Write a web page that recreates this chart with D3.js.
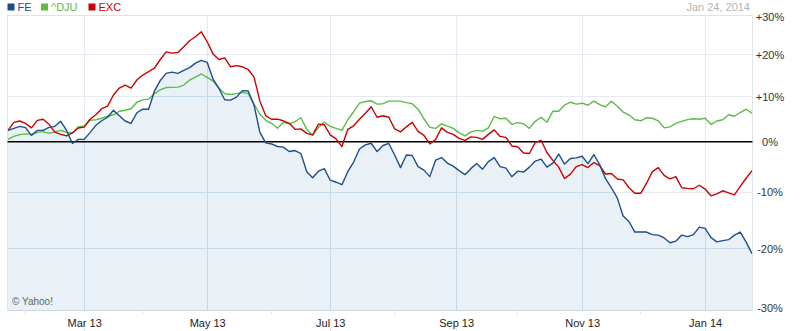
<!DOCTYPE html>
<html><head><meta charset="utf-8">
<script src="https://cdnjs.cloudflare.com/ajax/libs/d3/7.8.5/d3.min.js"></script>
<style>
html,body{margin:0;padding:0;background:#fff;}
svg{display:block;font-family:"Liberation Sans",Arial,sans-serif;}
</style></head>
<body><svg id="c" width="806" height="331"></svg>
<script>
// ---- data (percent change, one value every 2 trading days, Jan 2013 - Jan 24 2014) ----
const seriesNames = ["FE", "^DJU", "EXC"];
const dayStep = 2;
const fe = [2.4,2.85,3.28,3.0,1.34,2.4,2.4,3.06,3.28,4.37,
 2.4,-0.36,0.49,0.49,1.92,3.5,4.49,5.26,6.82,5.59,
 4.44,3.93,6.26,7.05,7.05,11.2,13.7,15.4,15.7,15.4,
 16.1,16.8,17.9,18.6,18.1,14.0,11.8,9.2,9.1,9.8,
 11.3,11.2,7.95,1.98,-0.25,-0.46,-0.99,-1.13,-2.03,-1.82,
 -2.44,-6.08,-7.26,-5.98,-5.48,-7.74,-8.13,-8.61,-6.08,-4.17,
 -1.51,-0.67,-0.32,-2.03,-0.78,-0.36,-2.74,-5.27,-2.74,-2.85,
 -5.08,-5.77,-7.05,-3.77,-3.26,-4.37,-4.98,-5.87,-6.66,-5.48,
 -4.47,-5.58,-4.07,-3.26,-5.08,-5.38,-7.05,-5.98,-6.17,-5.18,
 -3.97,-3.56,-5.18,-4.37,-2.54,-4.57,-3.46,-3.32,-2.99,-4.47,
 -2.64,-4.68,-7.45,-9.19,-11.09,-14.4,-15.39,-17.24,-17.2,-17.24,
 -17.68,-17.76,-18.26,-19.07,-18.8,-17.76,-18.03,-17.68,-16.37,-16.59,
 -18.21,-18.92,-18.72,-18.55,-17.76,-17.24,-18.97,-20.89];
const dju = [0.49,1.12,1.51,1.66,1.55,1.98,2.13,1.77,2.09,2.4,
 1.98,1.87,3.17,3.34,4.59,4.71,5.04,5.48,5.81,6.6,
 6.82,7.16,8.63,9.17,9.33,10.61,11.5,12.02,12.06,12.13,
 12.6,13.8,14.5,15.25,14.45,13.55,11.9,10.56,10.4,10.61,
 10.9,10.61,8.19,5.93,4.59,3.93,2.85,4.15,3.83,4.31,
 5.15,2.63,1.34,3.06,4.15,3.28,2.85,2.4,4.71,6.49,
 8.41,8.8,8.98,8.19,8.3,8.87,8.87,8.87,8.53,8.3,
 7.05,4.93,3.06,2.85,3.83,3.32,2.85,1.87,1.23,2.09,
 2.4,2.19,2.95,5.48,4.93,5.04,3.72,4.09,3.83,2.85,
 4.37,5.26,4.15,6.6,6.6,7.95,8.63,8.19,8.41,7.95,
 8.87,8.07,7.61,8.87,7.73,6.42,5.81,4.71,4.49,5.15,
 5.04,4.49,2.95,3.17,3.93,4.37,4.75,4.93,4.82,5.04,
 3.72,4.44,4.71,5.81,5.48,6.31,7.05,6.15];
const exc = [2.4,4.15,4.44,3.93,2.95,4.59,4.82,3.72,2.05,1.55,
 1.23,1.87,2.91,3.1,4.82,5.81,7.16,7.73,10.29,11.9,
 12.6,11.9,13.8,15.0,15.8,16.7,18.8,20.7,20.4,20.55,
 22.0,23.56,24.6,25.9,23.3,20.2,18.8,19.2,17.0,17.3,
 17.0,16.35,14.5,8.87,5.59,4.82,4.86,4.49,3.93,2.63,
 2.74,1.77,1.44,3.76,3.61,1.44,0.59,-0.99,2.63,3.39,
 4.82,6.15,7.61,5.26,5.59,5.26,2.74,2.09,3.17,4.15,
 2.19,1.34,-0.46,0.49,2.95,1.98,1.55,0.7,0.27,1.02,
 0.91,0.49,1.55,2.52,1.12,0.91,-0.88,-1.03,-2.34,-2.44,
 -0.15,0.27,-2.23,-3.83,-5.18,-7.41,-6.57,-5.08,-4.68,-5.27,
 -4.27,-4.88,-6.53,-6.43,-7.51,-7.68,-9.19,-10.24,-10.24,-8.32,
 -6.08,-5.27,-6.81,-7.49,-7.05,-9.19,-9.3,-9.38,-8.71,-9.44,
 -10.71,-10.33,-9.76,-10.15,-10.52,-8.94,-7.36,-5.88];
const majorTickDays = [26, 68, 110, 153, 196, 238];
const majorTickLabels = ["Mar 13", "May 13", "Jul 13", "Sep 13", "Nov 13", "Jan 14"];
const minorTickDays = [6, 46, 90, 132, 174, 216];
const yTickValues = [30, 20, 10, 0, -10, -20, -30];
const dateLabel = "Jan 24, 2014";
const colors = {"FE": "#1d4e89", "^DJU": "#5bbb47", "EXC": "#cc0000"};

// ---- chart ----
const svg = d3.select("#c");
const L = 7.5, R = 752.5, T = 15.5, B = 310.5;
const lastDay = (fe.length - 1) * dayStep;
const x = d3.scaleLinear().domain([0, lastDay]).range([8, 752]);
const y = d3.scaleLog().domain([0.7, 1.3]).range([312, 16.5]);
const yp = p => y(1 + p / 100);
const crisp = v => Math.round(v - 0.5) + 0.5;

const toPts = arr => arr.map((v, i) => ({d: i * dayStep, v}));
const feP = toPts(fe), djuP = toPts(dju), excP = toPts(exc);

const area = d3.area().x(d => x(d.d)).y0(B).y1(d => yp(d.v));
const line = d3.line().x(d => x(d.d)).y(d => yp(d.v));

const defs = svg.append("defs");
defs.append("clipPath").attr("id", "plotclip").append("rect")
  .attr("x", L).attr("y", T).attr("width", R - L).attr("height", B - T);
defs.append("clipPath").attr("id", "areaclip").append("path").attr("d", area(feP));

// area fill
svg.append("path").attr("d", area(feP)).attr("fill", "#e9f1f7");

// gridlines (light on white, bluish inside area)
function grid(g, color) {
  g.selectAll("line.h").data(yTickValues.filter(v => v !== 0 && v !== 30 && v !== -30))
    .join("line").attr("class", "h")
    .attr("x1", L).attr("x2", R)
    .attr("y1", d => crisp(yp(d))).attr("y2", d => crisp(yp(d)))
    .attr("stroke", color).attr("stroke-width", 1);
  g.selectAll("line.v").data(majorTickDays).join("line").attr("class", "v")
    .attr("x1", d => crisp(x(d))).attr("x2", d => crisp(x(d)))
    .attr("y1", T).attr("y2", B)
    .attr("stroke", color).attr("stroke-width", 1);
}
grid(svg.append("g"), "#e4eaf0");
grid(svg.append("g").attr("clip-path", "url(#areaclip)"), "#c6d9e8");

// frame
svg.append("line").attr("x1", L).attr("x2", R).attr("y1", T).attr("y2", T).attr("stroke", "#dfe4e9");
svg.append("line").attr("x1", L).attr("x2", L).attr("y1", T).attr("y2", B).attr("stroke", "#dfe4e9");
svg.append("line").attr("x1", R).attr("x2", R).attr("y1", T).attr("y2", B).attr("stroke", "#dfe4e9");
svg.append("line").attr("x1", L).attr("x2", R).attr("y1", B).attr("y2", B).attr("stroke", "#c9d7e3");

// zero line
svg.append("line").attr("x1", L).attr("x2", R)
  .attr("y1", yp(0)).attr("y2", yp(0)).attr("stroke", "#000").attr("stroke-width", 1.4);

// series lines
const lines = svg.append("g").attr("clip-path", "url(#plotclip)");
[["^DJU", djuP], ["EXC", excP], ["FE", feP]].forEach(([n, pts]) => {
  lines.append("path").attr("d", line(pts)).attr("fill", "none")
    .attr("stroke", colors[n]).attr("stroke-width", 1.4).attr("stroke-linejoin", "round");
});

// minor / major ticks on the bottom
svg.append("g").selectAll("line").data(minorTickDays).join("line")
  .attr("x1", d => crisp(x(d))).attr("x2", d => crisp(x(d)))
  .attr("y1", B + 1).attr("y2", B + 4).attr("stroke", "#dde3e8");
svg.append("g").selectAll("line").data(majorTickDays).join("line")
  .attr("x1", d => crisp(x(d))).attr("x2", d => crisp(x(d)))
  .attr("y1", 329).attr("y2", 331).attr("stroke", "#dde3e8");

// x axis labels
const xAxis = d3.axisBottom(x).tickValues(majorTickDays)
  .tickFormat((d, i) => majorTickLabels[i]).tickSize(0).tickPadding(0);
const gx = svg.append("g").attr("transform", "translate(0,327)").call(xAxis);
gx.select(".domain").remove();
gx.selectAll("text").attr("y", 0).attr("dy", 0)
  .style("font-size", "11px").style("font-family", '"Liberation Sans",Arial,sans-serif').attr("fill", "#222");

// y axis labels (right side)
const yAxis = d3.axisRight(y).tickValues(yTickValues.map(v => 1 + v / 100))
  .tickFormat(v => { const p = Math.round((v - 1) * 100); return (p > 0 ? "+" : "") + p + "%"; })
  .tickSize(0).tickPadding(0);
const gy = svg.append("g").attr("transform", "translate(770,0)").call(yAxis);
gy.select(".domain").remove();
gy.selectAll("text").attr("x", 0).attr("text-anchor", "middle")
  .style("font-size", "11px").style("font-family", '"Liberation Sans",Arial,sans-serif').attr("fill", "#333")
  .attr("dy", d => Math.abs(d - 0.7) < 1e-6 ? "-0.05em" : "0.35em");

// legend
const legendX = [7.5, 41, 88.5];
const lg = svg.append("g");
seriesNames.forEach((n, i) => {
  lg.append("rect").attr("x", legendX[i]).attr("y", 3.5).attr("width", 7).attr("height", 7).attr("fill", colors[n]);
  lg.append("text").attr("x", legendX[i] + 10).attr("y", 11).attr("fill", colors[n])
    .style("font-size", "11px").text(n);
});

// date + copyright
svg.append("text").attr("x", 750).attr("y", 11).attr("text-anchor", "end")
  .attr("fill", "#b3b3b3").style("font-size", "11px").text(dateLabel);
svg.append("text").attr("x", 12).attr("y", 305).attr("fill", "#666")
  .style("font-size", "10px").text("© Yahoo!");
</script></body></html>
